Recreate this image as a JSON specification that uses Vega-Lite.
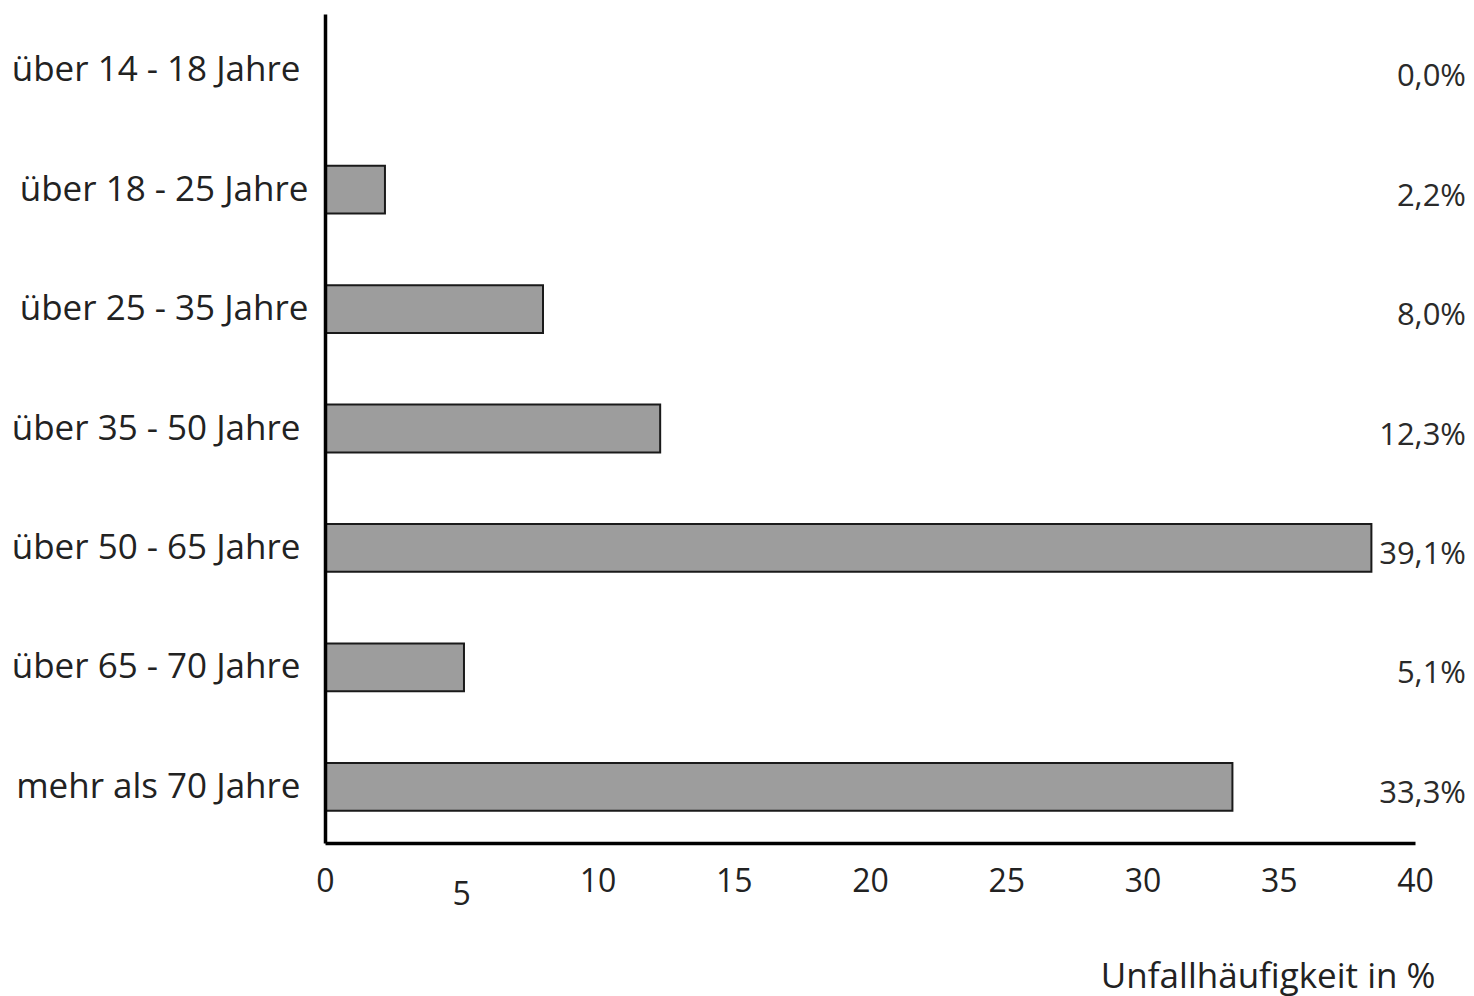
{
  "$schema": "https://vega.github.io/schema/vega-lite/v6.json",
  "autosize": {"type": "none"},
  "padding": {"left": 325, "top": 14, "right": 59, "bottom": 153},
  "width": 1090,
  "height": 829,
  "background": "white",
  "config": {"view": {"stroke": null}, "font": "Open Sans"},
  "data": {
    "values": [
      {"group": "über 14 - 18 Jahre", "bar": 0, "label": "0,0%"},
      {"group": "über 18 - 25 Jahre", "bar": 2.2, "label": "2,2%"},
      {"group": "über 25 - 35 Jahre", "bar": 8.0, "label": "8,0%"},
      {"group": "über 35 - 50 Jahre", "bar": 12.3, "label": "12,3%"},
      {"group": "über 50 - 65 Jahre", "bar": 38.4, "label": "39,1%"},
      {"group": "über 65 - 70 Jahre", "bar": 5.1, "label": "5,1%"},
      {"group": "mehr als 70 Jahre", "bar": 33.3, "label": "33,3%"}
    ]
  },
  "encoding": {
    "y": {
      "field": "group",
      "type": "nominal",
      "sort": null,
      "scale": {"paddingInner": 0.6, "paddingOuter": 0.27},
      "axis": {
        "title": null,
        "ticks": false,
        "domainColor": "#000000",
        "domainWidth": 3.5,
        "labelFont": "Open Sans",
        "labelFontSize": 35,
        "labelColor": "#222222",
        "labelPadding": {"condition": {"test": "datum.value === 'über 18 - 25 Jahre' || datum.value === 'über 25 - 35 Jahre'", "value": 17}, "value": 25},
        "labelLimit": 400,
        "zindex": 1
      }
    }
  },
  "layer": [
    {
      "mark": {"type": "bar", "fill": "#9d9d9d", "stroke": "#1a1a1a", "strokeWidth": 2},
      "encoding": {
        "x": {
          "field": "bar",
          "type": "quantitative",
          "scale": {"domain": [0, 40], "nice": false},
          "axis": {
            "values": [0, 5, 10, 15, 20, 25, 30, 35, 40],
            "ticks": false,
            "grid": false,
            "domainColor": "#000000",
            "domainWidth": 3.5,
            "labelFont": "Open Sans",
            "labelFontSize": 32,
            "labelColor": "#222222",
            "labelFlush": false,
            "labelPadding": {"condition": {"test": "datum.value === 5", "value": 36}, "value": 23},
            "title": "Unfallhäufigkeit in %",
            "titleFont": "Open Sans",
            "titleFontSize": 35,
            "titleFontWeight": "normal",
            "titleColor": "#222222",
            "titleAnchor": "end",
            "titleAlign": "right",
            "titleBaseline": "alphabetic",
            "titleX": 1110,
            "titleY": 144,
            "zindex": 1
          }
        }
      }
    },
    {
      "mark": {"type": "text", "align": "right", "baseline": "middle", "dx": 51, "dy": 7, "fontSize": 31, "font": "Open Sans", "color": "#2a2a2a"},
      "encoding": {
        "x": {"datum": 40},
        "text": {"field": "label"}
      }
    }
  ]
}
